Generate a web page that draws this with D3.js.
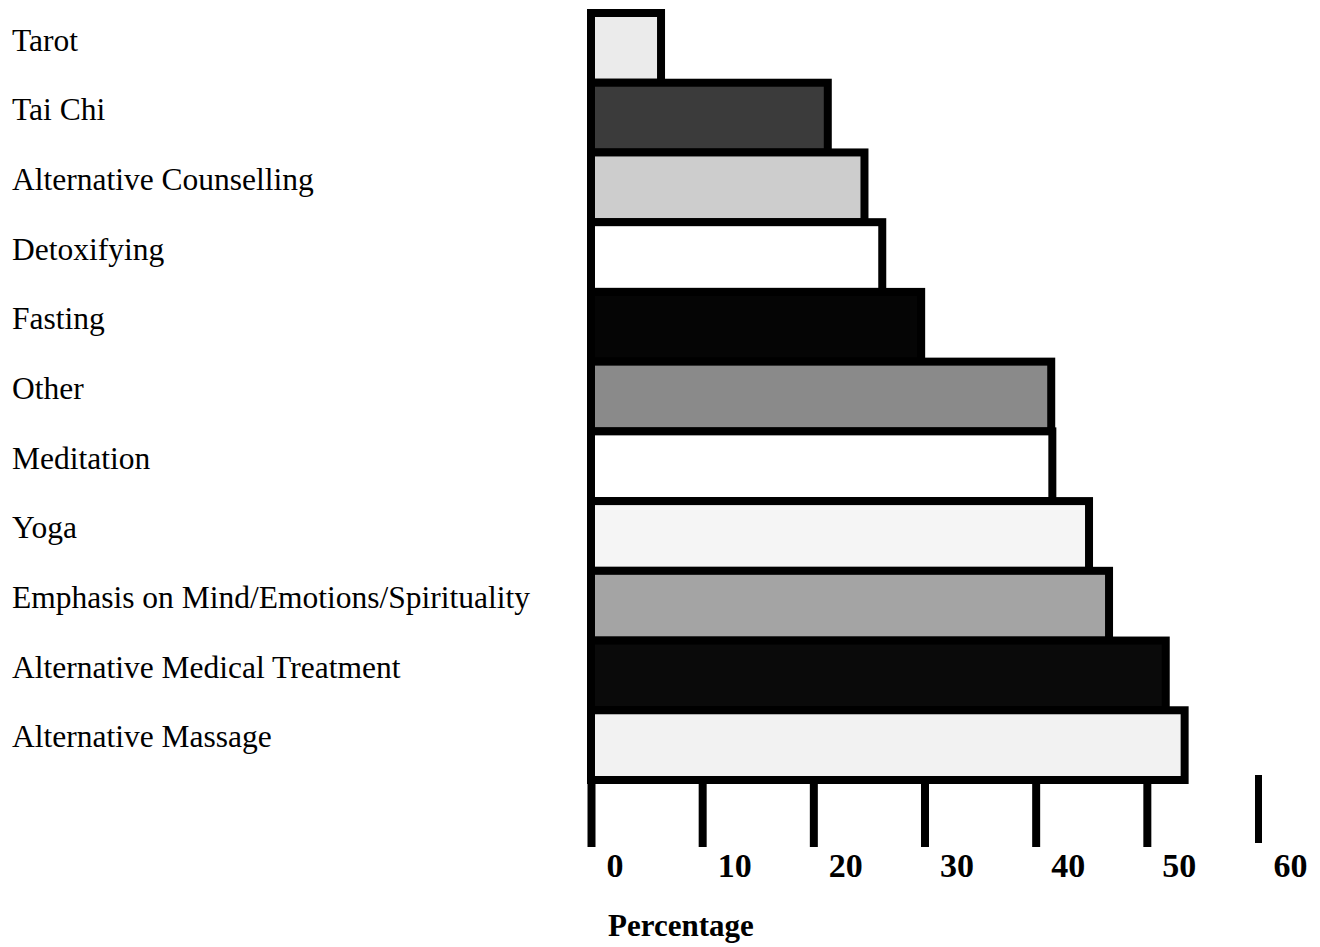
<!DOCTYPE html>
<html>
<head>
<meta charset="utf-8">
<script src="https://cdn.jsdelivr.net/npm/d3@7/dist/d3.min.js"></script>
<style>
  html, body { margin: 0; padding: 0; background: #fff; }
  svg { display: block; }
</style>
</head>
<body>
<svg id="chart" width="1320" height="947"></svg>
<script>
// ---- data ----
const categories = [
  "Tarot",
  "Tai Chi",
  "Alternative Counselling",
  "Detoxifying",
  "Fasting",
  "Other",
  "Meditation",
  "Yoga",
  "Emphasis on Mind/Emotions/Spirituality",
  "Alternative Medical Treatment",
  "Alternative Massage"
];
const values = [6.3, 21.3, 24.6, 26.2, 29.7, 41.4, 41.5, 44.8, 46.6, 51.7, 53.4];
const fills = ["#ebebeb", "#3b3b3b", "#cdcdcd", "#ffffff", "#050505", "#8a8a8a",
               "#ffffff", "#f5f5f5", "#a4a4a4", "#0a0a0a", "#f2f2f2"];
const tickValues = [0, 10, 20, 30, 40, 50, 60];
const axisTitle = "Percentage";

// ---- layout ----
const svg = d3.select("#chart");
const x = d3.scaleLinear().domain([0, 60]).range([591, 1258]);
const y = d3.scaleBand().domain(categories).range([13, 780]).padding(0);
const yLab = d3.scaleBand().domain(categories).range([5, 771]).padding(0);
const axisY = 783;

// axis ticks (drawn first, under the bars)
const axis = d3.axisBottom(x)
  .tickValues(tickValues)
  .tickSizeInner(64)
  .tickSizeOuter(0)
  .tickPadding(8)
  .tickFormat(d3.format("d"));

const gAxis = svg.append("g")
  .attr("transform", `translate(0,${axisY})`)
  .call(axis);
gAxis.select(".domain").remove();
gAxis.selectAll(".tick line")
  .attr("stroke", "#000")
  .attr("stroke-width", d => d === 60 ? 7 : 8)
  .attr("y1", d => d === 60 ? -8 : 0)
  .attr("y2", d => d === 60 ? 60 : 64);
gAxis.selectAll(".tick text")
  .attr("text-anchor", "start")
  .attr("x", 15)
  .attr("y", 94)
  .attr("dy", 0)
  .attr("fill", "#000")
  .style("font-family", "'Liberation Serif', 'Times New Roman', serif")
  .style("font-weight", "bold")
  .style("font-size", "34px");

// bars
svg.append("g")
  .selectAll("rect")
  .data(categories)
  .join("rect")
  .attr("x", x(0))
  .attr("y", d => y(d))
  .attr("width", (d, i) => x(values[i]) - x(0))
  .attr("height", y.bandwidth())
  .attr("fill", (d, i) => fills[i])
  .attr("stroke", "#000")
  .attr("stroke-width", 8);

// category labels
svg.append("g")
  .selectAll("text")
  .data(categories)
  .join("text")
  .attr("x", 12)
  .attr("y", d => yLab(d) + yLab.bandwidth() / 2)
  .attr("dy", "0.35em")
  .attr("fill", "#000")
  .style("font-family", "'Liberation Serif', 'Times New Roman', serif")
  .style("font-size", "31.5px")
  .text(d => d);

// axis title
svg.append("text")
  .attr("x", 608)
  .attr("y", 936)
  .attr("text-anchor", "start")
  .attr("fill", "#000")
  .style("font-family", "'Liberation Serif', 'Times New Roman', serif")
  .style("font-weight", "bold")
  .style("font-size", "31px")
  .text(axisTitle);
</script>
</body>
</html>
